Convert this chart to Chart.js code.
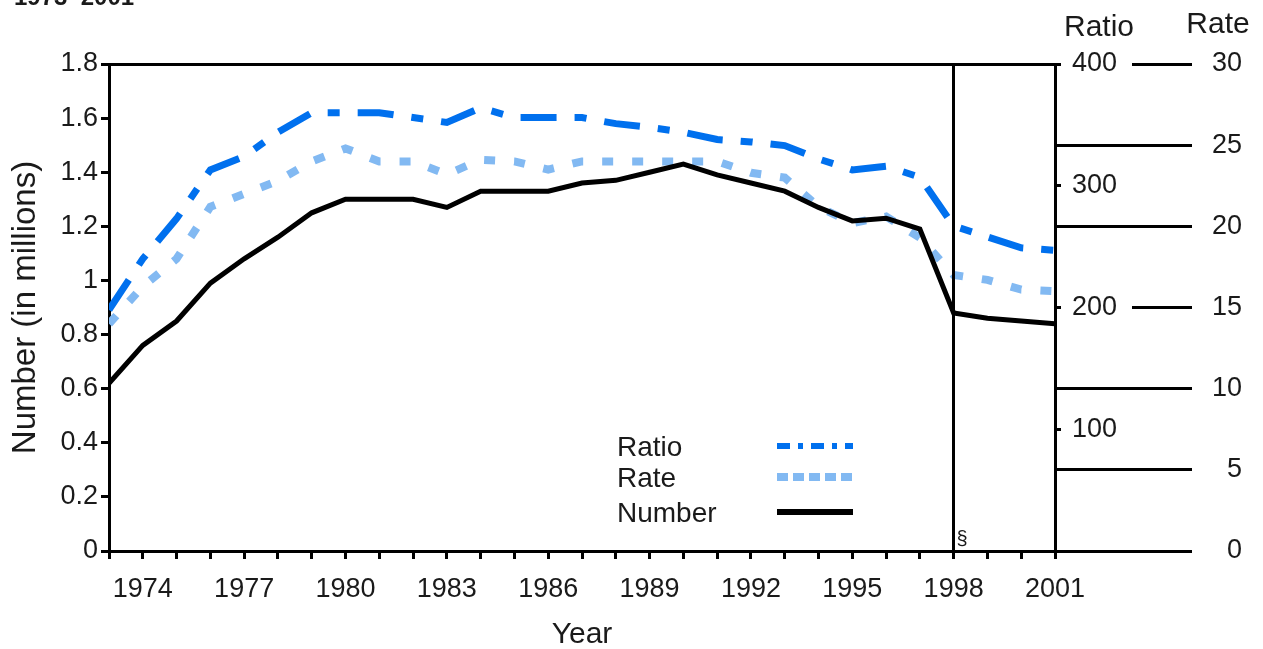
<!DOCTYPE html>
<html>
<head>
<meta charset="utf-8">
<script src="https://cdn.jsdelivr.net/npm/chart.js@4/dist/chart.umd.min.js"></script>
<style>
  body { margin: 0; background: #fff; }
  #wrap { width: 1263px; height: 649px; position: relative; }
</style>
</head>
<body>
<div id="wrap"><canvas id="myChart"></canvas></div>
<script>
// data
var years = [1973,1974,1975,1976,1977,1978,1979,1980,1981,1982,1983,1984,1985,1986,1987,
             1988,1989,1990,1991,1992,1993,1994,1995,1996,1997,1998,1999,2000,2001]
// number of abortions, millions (left axis)
var numberVals = [0.62,0.76,0.85,0.99,1.08,1.16,1.25,1.30,1.30,1.30,1.27,1.33,1.33,1.33,1.36,
                  1.37,1.40,1.43,1.39,1.36,1.33,1.27,1.22,1.23,1.19,0.88,0.86,0.85,0.84]
// ratio per 1,000 live births (first right axis)
var ratioVals = [198,240,273,313,324,344,360,360,360,356,352,364,356,356,356,
                 351,348,344,338,336,333,322,313,316,307,267,258,249,247]
// rate per 1,000 women (second right axis)
var rateVals = [14.0,16.3,18.0,21.2,22.0,22.8,24.0,24.8,24.0,24.0,23.2,24.1,24.0,23.5,24.0,
                24.0,24.0,24.0,24.0,23.3,23.0,21.2,20.2,20.6,19.3,17.0,16.7,16.1,16.0]
var labeledYears = [1974,1977,1980,1983,1986,1989,1992,1995,1998,2001]
var rateLongTicks = [0,5,10,20,25]
var breakYear = 1998

var FONT = "'Liberation Sans', Arial, sans-serif"
var INK = '#1a1a1a'

function pts(vals) {
  return years.map(function (y, i) { return {x: y, y: vals[i]} })
}

function crisp(v) { return Math.round(v - 0.5) + 0.5 }

// extra drawing: box top, 1998 break, axis headers, long rate ticks, legend
var extras = {
  id: 'extras',
  afterDraw: function (chart) {
    var c = chart.ctx
    var a = chart.chartArea
    var xs = chart.scales.x
    var ratio = chart.scales.ratio
    var rate = chart.scales.rate
    c.save()
    c.strokeStyle = '#000'
    c.lineWidth = 3
    c.beginPath()
    c.moveTo(a.left - 1, crisp(a.top))
    c.lineTo(a.right + 1, crisp(a.top))
    var bx = crisp(xs.getPixelForValue(breakYear))
    c.moveTo(bx, a.top)
    c.lineTo(bx, a.bottom)
    rateLongTicks.forEach(function (v) {
      var yy = crisp(rate.getPixelForValue(v))
      c.moveTo(a.right, yy)
      c.lineTo(rate.left + 1, yy)
    })
    c.stroke()

    c.fillStyle = INK
    c.font = '20px ' + FONT
    c.textAlign = 'left'
    c.textBaseline = 'bottom'
    c.fillText('\u00a7', bx + 3, a.bottom - 2)

    c.font = '30px ' + FONT
    c.textAlign = 'center'
    c.textBaseline = 'alphabetic'
    c.fillText('Ratio', ratio.left + 44, a.top - 28)
    c.fillText('Rate', rate.right - 24, a.top - 31)

    c.font = 'bold 24px ' + FONT
    c.textAlign = 'left'
    c.fillText('1973\u20132001', 14, 5)

    // legend
    var lx = a.left + 508
    var rows = [
      {ds: chart.data.datasets[0], y: a.top + 382, dash: [13, 8, 5, 8], w: 6},
      {ds: chart.data.datasets[1], y: a.top + 413, dash: [11, 5], w: 8},
      {ds: chart.data.datasets[2], y: a.top + 448, dash: [], w: 6}
    ]
    c.font = '28px ' + FONT
    c.textBaseline = 'middle'
    rows.forEach(function (r) {
      c.fillStyle = INK
      c.fillText(r.ds.label, lx, r.y + 2)
      c.strokeStyle = r.ds.borderColor
      c.lineWidth = r.w
      c.setLineDash(r.dash)
      c.beginPath()
      c.moveTo(lx + 160, r.y)
      c.lineTo(lx + 236, r.y)
      c.stroke()
    })
    c.restore()
  }
}

const ctx = document.getElementById('myChart')
var chart = new Chart(ctx, {
  type: 'line',
  data: {
    datasets: [
      {
        label: 'Ratio',
        data: pts(ratioVals),
        yAxisID: 'ratio',
        borderColor: '#0070EE',
        borderWidth: 7,
        borderDash: [36, 18, 12, 18],
        order: 1
      },
      {
        label: 'Rate',
        data: pts(rateVals),
        yAxisID: 'rate',
        borderColor: '#82B9F2',
        borderWidth: 8,
        borderDash: [11, 19],
        order: 2
      },
      {
        label: 'Number',
        data: pts(numberVals),
        yAxisID: 'y',
        borderColor: '#000000',
        borderWidth: 5,
        order: 0
      }
    ]
  },
  options: {
    responsive: true,
    maintainAspectRatio: false,
    animation: false,
    layout: { padding: { top: 64, right: 21, left: 0, bottom: 0 } },
    elements: { point: { radius: 0 }, line: { tension: 0, borderCapStyle: 'butt' } },
    plugins: { legend: { display: false }, tooltip: { enabled: false } },
    font: { family: FONT },
    scales: {
      x: {
        type: 'linear',
        min: 1973,
        max: 2001,
        border: { color: '#000', width: 3 },
        grid: { drawOnChartArea: false, color: '#000', lineWidth: 3, tickLength: 8 },
        ticks: {
          stepSize: 1,
          autoSkip: false,
          maxRotation: 0,
          padding: 14,
          color: INK,
          font: { size: 27, family: FONT },
          callback: function (v) { return labeledYears.indexOf(v) >= 0 ? String(v) : '' }
        },
        title: { display: true, text: 'Year', color: INK, font: { size: 30, family: FONT }, padding: { top: 0, bottom: -4 } },
        afterFit: function (s) { s.height = 98 }
      },
      y: {
        position: 'left',
        min: 0,
        max: 1.8,
        border: { color: '#000', width: 3 },
        grid: { drawOnChartArea: false, color: '#000', lineWidth: 3, tickLength: 8 },
        ticks: {
          stepSize: 0.2,
          padding: 3,
          color: INK,
          font: { size: 27, family: FONT },
          callback: function (v) { return String(Number(v.toFixed(1))) }
        },
        title: { display: true, text: 'Number (in millions)', color: INK, font: { size: 33, family: FONT }, padding: { top: 6, bottom: 0 } },
        afterFit: function (s) { s.width = 109 }
      },
      ratio: {
        position: 'right',
        min: 0,
        max: 400,
        border: { color: '#000', width: 3 },
        grid: { drawOnChartArea: false, color: '#000', lineWidth: 3, tickLength: 6 },
        ticks: {
          stepSize: 100,
          padding: 11,
          color: INK,
          font: { size: 27, family: FONT },
          callback: function (v) { return v === 0 ? '' : String(v) }
        },
        afterFit: function (s) { s.width = 77 }
      },
      rate: {
        position: 'right',
        min: 0,
        max: 30,
        border: { display: false },
        grid: { drawOnChartArea: false, color: '#000', lineWidth: 3, tickLength: 60 },
        ticks: { stepSize: 5, padding: 16, crossAlign: 'far', color: INK, font: { size: 27, family: FONT } },
        afterFit: function (s) { s.width = 110 }
      }
    }
  },
  plugins: [extras]
})
</script>
</body>
</html>
